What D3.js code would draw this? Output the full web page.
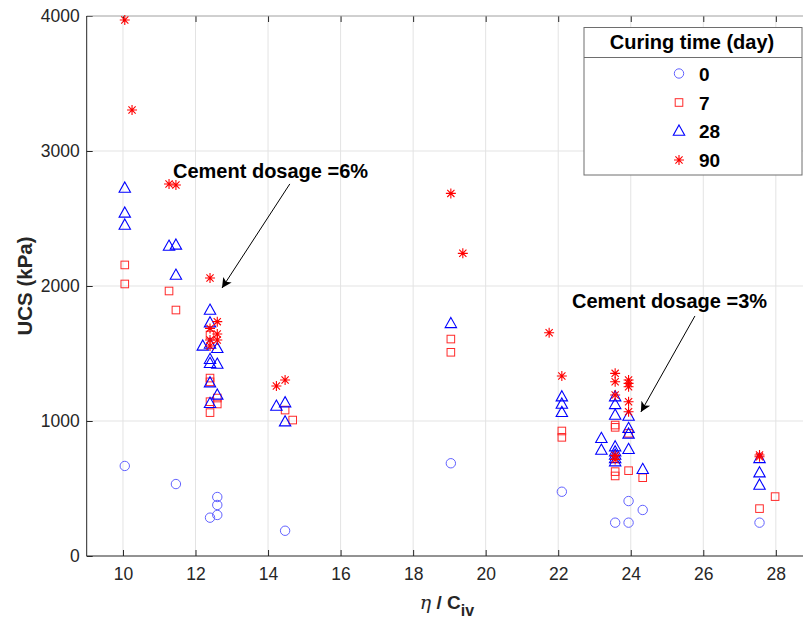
<!DOCTYPE html>
<html><head><meta charset="utf-8">
<script src="https://cdn.jsdelivr.net/npm/d3@7/dist/d3.min.js"></script>
<style>body{margin:0;background:#fff}svg{display:block}text{font-family:"Liberation Sans",Arial,sans-serif}</style>
</head><body><svg id="c" width="803" height="619"></svg>
<script>
// ---- data ----
const xTicks = [10,12,14,16,18,20,22,24,26,28];
const yTicks = [0,1000,2000,3000,4000];
const legendLabels = ["0","7","28","90"];
const day0X = [10.05,11.46,12.4,12.6,12.6,12.6,14.47,19.04,22.1,23.57,23.94,23.94,24.33,27.55];
const day0Y = [667,533,284,437,378,304,187,687,476,247,407,247,341,247];
const day7X = [10.05,10.05,11.27,11.46,12.4,12.4,12.4,12.4,12.4,12.6,12.6,14.47,14.68,19.04,19.04,22.1,22.1,23.57,23.57,23.57,23.57,23.94,23.94,24.33,27.55,27.98];
const day7Y = [2156,2015,1963,1822,1637,1318,1290,1143,1062,1170,1126,1081,1007,1607,1509,926,879,970,953,625,593,909,632,580,351,440];
const day28X = [10.05,10.05,10.05,11.27,11.46,11.46,12.4,12.4,12.2,12.4,12.6,12.4,12.4,12.6,12.4,12.6,12.4,14.23,14.47,14.47,19.04,22.1,22.1,22.1,23.19,23.19,23.57,23.57,23.57,23.57,23.57,23.57,23.57,23.57,23.94,23.94,23.94,23.94,24.33,27.55,27.55,27.55];
const day28Y = [2726,2541,2452,2296,2304,2081,1822,1728,1556,1570,1538,1457,1427,1422,1284,1193,1131,1111,1136,995,1723,1180,1126,1064,872,785,1180,1123,1044,810,773,748,723,699,1037,946,904,790,642,723,617,526];
const day90X = [10.05,10.25,11.27,11.46,12.4,12.6,12.4,12.6,12.4,12.6,12.4,14.23,14.47,19.04,19.37,21.75,22.1,23.57,23.57,23.57,23.57,23.57,23.94,23.94,23.94,23.94,23.94,27.55,27.55];
const day90Y = [3970,3304,2756,2748,2059,1736,1686,1644,1600,1600,1556,1259,1304,2686,2242,1654,1333,1353,1291,1193,745,715,1304,1279,1254,1143,1069,748,735];
const annotations = [
  {text:"Cement dosage =6%", tx:11.38, ty:2800, ax:14.6, ay:2756, bx:12.73, by:1985},
  {text:"Cement dosage =3%", tx:22.38, ty:1840, ax:25.77, ay:1778, bx:24.28, by:1067}
];

const svg = d3.select("#c");
const x = d3.scaleLinear().domain([9,29]).range([86.7, 812.1]);
const y = d3.scaleLinear().domain([0,4000]).range([556,16]);
const L = 86.7, R = 812.1, T = 16, B = 556;

// grid
const g = svg.append("g");
g.selectAll(".gx").data(xTicks).join("line").attr("x1",d=>x(d)).attr("x2",d=>x(d)).attr("y1",T).attr("y2",B).attr("stroke","#e3e3e3").attr("stroke-width",1);
g.selectAll(".gy").data(yTicks.filter(d=>d>0&&d<4000)).join("line").attr("y1",d=>y(d)).attr("y2",d=>y(d)).attr("x1",L).attr("x2",R).attr("stroke","#e3e3e3").attr("stroke-width",1);

// axes
const xAxis = d3.axisBottom(x).tickValues(xTicks).tickSize(-6).tickPadding(12).tickFormat(d3.format("d"));
const ax = svg.append("g").attr("transform",`translate(0,${B})`).call(xAxis);
const yAxis = d3.axisLeft(y).tickValues(yTicks).tickSize(-6).tickPadding(7).tickFormat(d3.format("d"));
const ay = svg.append("g").attr("transform",`translate(${L},0)`).call(yAxis);
[ax,ay].forEach(a=>{a.select(".domain").remove();a.selectAll("line").attr("stroke","#262626");a.selectAll("text").attr("fill","#262626").style("font-size","17.5px");});
// top ticks
const topAx = d3.axisTop(x).tickValues(xTicks).tickSize(-6).tickFormat("");
const at = svg.append("g").attr("transform",`translate(0,${T})`).call(topAx);
at.select(".domain").remove(); at.selectAll("line").attr("stroke","#262626");
svg.append("line").attr("x1",L).attr("x2",R).attr("y1",T).attr("y2",T).attr("stroke","#a0a0a0");
svg.append("line").attr("x1",L).attr("x2",R).attr("y1",B).attr("y2",B).attr("stroke","#262626");
svg.append("line").attr("x1",L).attr("x2",L).attr("y1",T).attr("y2",B).attr("stroke","#262626");

// axis titles
const xt = svg.append("text").attr("x",447).attr("y",609).attr("text-anchor","middle").attr("fill","#262626").style("font-size","19px");
xt.append("tspan").text("η").style("font-style","italic").style("font-family","'DejaVu Serif',serif");
xt.append("tspan").text(" / C").style("font-weight","bold");
xt.append("tspan").text("iv").attr("dy",7).style("font-weight","bold").style("font-size","16px");
svg.append("text").attr("transform","translate(32,286) rotate(-90)").attr("text-anchor","middle").attr("fill","#262626").style("font-size","20.5px").style("font-weight","bold").text("UCS (kPa)");

// markers
const plot = svg.append("g");
const sym = {
  circle: s => s.append("circle").attr("r",4.7).attr("fill","none").attr("stroke","#6262ff").attr("stroke-width",1),
  square: s => s.append("rect").attr("x",-3.8).attr("y",-3.8).attr("width",7.6).attr("height",7.6).attr("fill","none").attr("stroke","#ff2a2a").attr("stroke-width",1),
  tri: s => s.append("path").attr("d","M0,-6L5.7,4.2L-5.7,4.2Z").attr("fill","none").attr("stroke","#0000ff").attr("stroke-width",1.1),
  star: s => s.append("path").attr("d","M-5,0L5,0M0,-5L0,5M-3.6,-3.6L3.6,3.6M-3.6,3.6L3.6,-3.6").attr("fill","none").attr("stroke","#ff0000").attr("stroke-width",1.1)
};
const series = [
  {xs:day0X, ys:day0Y, m:"circle"},
  {xs:day7X, ys:day7Y, m:"square"},
  {xs:day28X, ys:day28Y, m:"tri"},
  {xs:day90X, ys:day90Y, m:"star"}
];
series.forEach(se=>{
  se.xs.forEach((xv,i)=>{
    const s = plot.append("g").attr("transform",`translate(${x(xv)},${y(se.ys[i])})`);
    sym[se.m](s);
  });
});

// annotations
svg.append("defs").append("marker").attr("id","ah").attr("viewBox","0 0 10 10").attr("refX",10).attr("refY",5)
  .attr("markerWidth",14).attr("markerHeight",10).attr("markerUnits","userSpaceOnUse").attr("orient","auto")
  .append("path").attr("d","M0,0L10,5L0,10L2.5,5Z").attr("fill","#000");
annotations.forEach(a=>{
  svg.append("line").attr("x1",x(a.ax)).attr("y1",y(a.ay)).attr("x2",x(a.bx)).attr("y2",y(a.by)).attr("stroke","#000").attr("stroke-width",1).attr("marker-end","url(#ah)");
  svg.append("text").attr("x",x(a.tx)).attr("y",y(a.ty)).style("font-size","20px").style("font-weight","bold").attr("fill","#000").text(a.text);
});

// legend
const lg = svg.append("g");
lg.append("rect").attr("x",584).attr("y",27.5).attr("width",218).attr("height",147.5).attr("fill","#fff").attr("stroke","#6e6e6e").attr("stroke-width",1);
lg.append("line").attr("x1",584).attr("x2",802).attr("y1",57.5).attr("y2",57.5).attr("stroke","#6e6e6e");
lg.append("text").attr("x",692).attr("y",49).attr("text-anchor","middle").style("font-size","20px").style("font-weight","bold").text("Curing time (day)");
const rowY = [73.5,102.5,131,160];
series.forEach((se,i)=>{
  const s = lg.append("g").attr("transform",`translate(679,${rowY[i]})`);
  sym[se.m](s);
  lg.append("text").attr("x",699).attr("y",rowY[i]+7).style("font-size","19px").style("font-weight","bold").text(legendLabels[i]);
});
</script></body></html>
